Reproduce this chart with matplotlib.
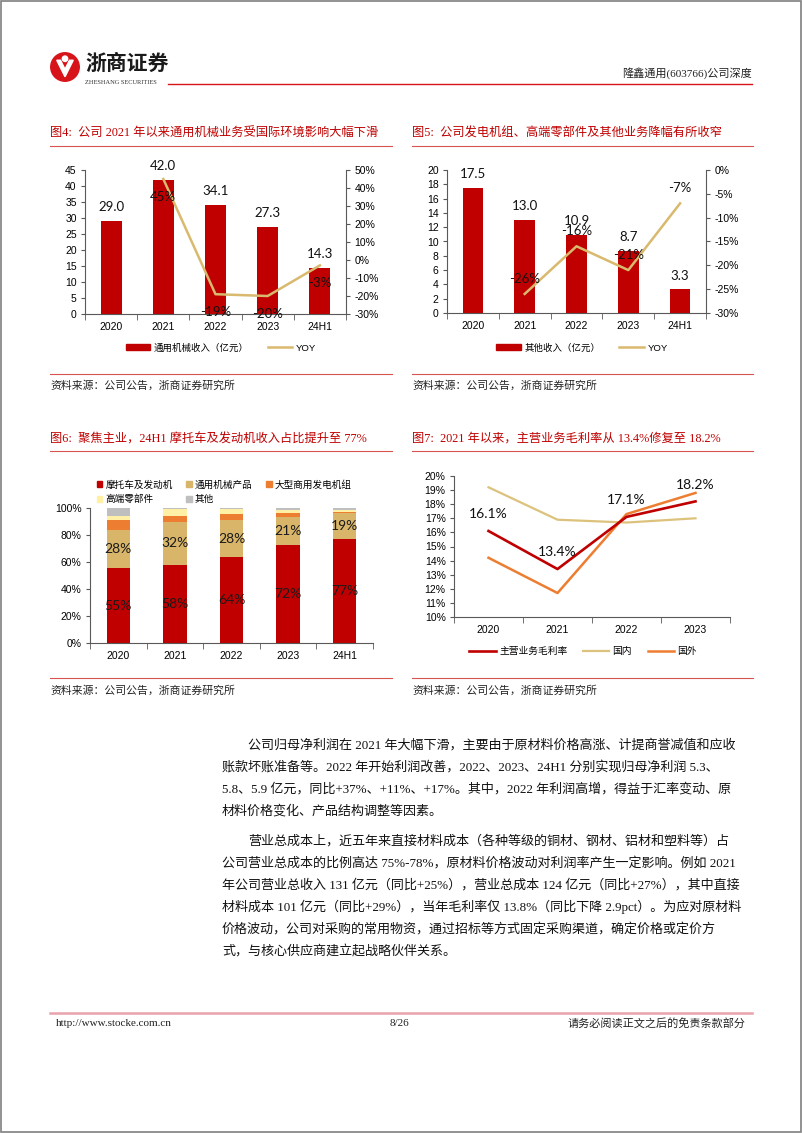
import numpy as np
import matplotlib
matplotlib.use("Agg")
import matplotlib.pyplot as plt
from matplotlib.lines import Line2D
from matplotlib.patches import Patch, Circle, Polygon, Rectangle

# ---- data ----
years5 = ["2020", "2021", "2022", "2023", "24H1"]
machinery_rev = [29.0, 42.0, 34.1, 27.3, 14.3]
machinery_yoy = [np.nan, 45, -19, -20, -3]
other_rev = [17.5, 13.0, 10.9, 8.7, 3.3]
other_yoy = [np.nan, -26, -16, -21, -7]

share_names = ["摩托车及发动机", "通用机械产品", "大型商用发电机组", "高端零部件", "其他"]
share_moto = [55.4, 57.7, 63.6, 72.3, 76.8]
share_general = [28.0, 32.2, 27.6, 21.0, 19.3]
share_genset = [7.8, 4.5, 4.3, 3.0, 1.3]
share_parts = [3.0, 4.6, 3.5, 2.2, 1.2]
share_other = [5.8, 1.0, 1.0, 1.5, 1.4]

years4 = ["2020", "2021", "2022", "2023"]
gm_main = [16.1, 13.4, 17.1, 18.2]
gm_dom = [19.2, 16.9, 16.7, 17.0]
gm_for = [14.2, 11.7, 17.3, 18.8]

RED = "#C00000"
TAN = "#D9B96E"
STK_TAN = "#D8B569"
ORANGE = "#ED7D31"
PALE = "#FFF0A6"
GRAY = "#BFBFBF"
DOM = "#DCC27C"
TITLE_RED = "#C00000"
LINE_RED = "#D9534F"
AXC = "#595959"

SERIF = ["Liberation Serif", "Noto Sans CJK SC"]
SANS = ["Liberation Sans", "Noto Sans CJK SC"]
LBL = ["Lato", "Noto Sans CJK SC"]

W, H = 802, 1133
fig = plt.figure(figsize=(W / 100, H / 100), dpi=100)


def px_axes(x0, y0, x1, y1):
    return fig.add_axes([x0 / W, 1 - y1 / H, (x1 - x0) / W, (y1 - y0) / H])


def ftext(x, y, s, **kw):
    kw.setdefault("va", "center")
    return fig.text(x / W, 1 - y / H, s, **kw)


def hline(x0, x1, y, color=LINE_RED, lw=0.8):
    fig.add_artist(Line2D([x0 / W, x1 / W], [1 - y / H] * 2, color=color, lw=lw))


def style_axes(ax, n):
    ax.set_xlim(-0.5, n - 0.5)
    ax.set_xticks(range(n))
    ax.set_xticks(np.arange(-0.5, n), minor=True)
    ax.tick_params(axis="x", which="major", length=0, pad=6)
    ax.tick_params(axis="x", which="minor", length=4, color=AXC)
    ax.tick_params(axis="y", length=3, color=AXC, pad=3)
    for s in ["top", "right"]:
        ax.spines[s].set_visible(False)
    for s in ["left", "bottom"]:
        ax.spines[s].set_color(AXC)
        ax.spines[s].set_linewidth(0.8)
    for lab in ax.get_xticklabels() + ax.get_yticklabels():
        lab.set_fontfamily(SANS)
        lab.set_fontsize(7.5)


# page border
fig.add_artist(Rectangle((0.001, 0.001), 0.998, 0.998, transform=fig.transFigure,
                         fill=False, edgecolor="#7f7f7f", lw=1.2))

# ---- header ----
lax = px_axes(50, 52, 80, 82)
lax.set_xlim(-1, 1)
lax.set_ylim(-1, 1)
lax.set_aspect("equal")
lax.axis("off")
lax.add_patch(Circle((0, 0), 0.95, color="#D7141A"))
lax.add_patch(Polygon([(-0.55, 0.45), (0, -0.65), (0.55, 0.45), (0.3, 0.45), (0, -0.15), (-0.3, 0.45)],
                      closed=True, color="white"))
lax.add_patch(Circle((0, 0.55), 0.18, color="white"))
ftext(85, 64, "浙商证券", fontsize=15, fontweight="bold", family=SANS, color="#1a1a1a")
ftext(85, 83, "ZHESHANG SECURITIES", fontsize=4.6, family=SERIF, color="#333333")
hline(168, 752, 84, color="#D7141A", lw=1.0)
ftext(752, 73, "隆鑫通用(603766)公司深度", fontsize=8, family=SERIF, ha="right", color="#222222")

# ---- titles / sources ----
ftext(50, 134, "图4:  公司 2021 年以来通用机械业务受国际环境影响大幅下滑", fontsize=8.8, family=SERIF, color=TITLE_RED)
ftext(412, 134, "图5:  公司发电机组、高端零部件及其他业务降幅有所收窄", fontsize=8.8, family=SERIF, color=TITLE_RED)
hline(50, 392, 146)
hline(412, 753, 146)
hline(50, 392, 374)
hline(412, 753, 374)
ftext(50, 386, "资料来源：公司公告，浙商证券研究所", fontsize=7.8, family=SERIF, color="#222222")
ftext(412, 386, "资料来源：公司公告，浙商证券研究所", fontsize=7.8, family=SERIF, color="#222222")

ftext(50, 439, "图6:  聚焦主业，24H1 摩托车及发动机收入占比提升至 77%", fontsize=8.8, family=SERIF, color=TITLE_RED)
ftext(412, 439, "图7:  2021 年以来，主营业务毛利率从 13.4%修复至 18.2%", fontsize=8.8, family=SERIF, color=TITLE_RED)
hline(50, 392, 451)
hline(412, 753, 451)
hline(50, 392, 678)
hline(412, 753, 678)
ftext(50, 691, "资料来源：公司公告，浙商证券研究所", fontsize=7.8, family=SERIF, color="#222222")
ftext(412, 691, "资料来源：公司公告，浙商证券研究所", fontsize=7.8, family=SERIF, color="#222222")


# ---- bar + yoy charts ----
def bar_yoy(box, rev, yoy, ylim, ystep, rlim, rstep):
    ax = px_axes(*box)
    x = np.arange(len(years5))
    ax.bar(x, rev, width=0.4, color=RED, zorder=2)
    ax.set_ylim(*ylim)
    ax.set_yticks(np.arange(ylim[0], ylim[1] + 0.1, ystep))
    ax.set_xticklabels(years5)
    style_axes(ax, len(years5))
    for i, v in enumerate(rev):
        ax.annotate(f"{v:.1f}", (i, v), xytext=(0, 10), textcoords="offset points",
                    ha="center", va="center", fontsize=9.5, family=LBL, color="#111111")
    ax2 = ax.twinx()
    ax2.plot(x, yoy, color=TAN, lw=1.8, zorder=3)
    ax2.set_ylim(*rlim)
    rt = np.arange(rlim[0], rlim[1] + 0.1, rstep)
    ax2.set_yticks(rt)
    ax2.set_yticklabels([f"{t:.0f}%" for t in rt])
    for s in ["top", "left", "bottom"]:
        ax2.spines[s].set_visible(False)
    ax2.spines["right"].set_color(AXC)
    ax2.spines["right"].set_linewidth(0.8)
    ax2.tick_params(axis="y", length=3, color=AXC, pad=3)
    for lab in ax2.get_yticklabels():
        lab.set_fontfamily(SANS)
        lab.set_fontsize(7.5)
    return ax, ax2


ax4, ax4r = bar_yoy((85, 170, 346, 314), machinery_rev, machinery_yoy, (0, 45), 5, (-30, 50), 10)
for i, v in enumerate(machinery_yoy):
    if not np.isnan(v):
        ax4r.annotate(f"{v:.0f}%", (i, v), xytext=(0, -13), textcoords="offset points",
                      ha="center", va="center", fontsize=9.5, family=LBL, color="#111111")

ax5, ax5r = bar_yoy((447, 170, 706, 313), other_rev, other_yoy, (0, 20), 2, (-30, 0), 5)
for i, v in enumerate(other_yoy):
    if not np.isnan(v):
        ax5r.annotate(f"{v:.0f}%", (i, v), xytext=(0, 11), textcoords="offset points",
                      ha="center", va="center", fontsize=9.5, family=LBL, color="#111111")

leg_kw = dict(loc="center", ncol=2, frameon=False, handlelength=2.6, handleheight=0.6,
              columnspacing=2.0, handletextpad=0.4, prop={"family": SANS, "size": 6.8})
fig.legend([Patch(color=RED), Line2D([], [], color=TAN, lw=1.8)], ["通用机械收入（亿元）", "YOY"],
           bbox_to_anchor=(221 / W, 1 - 348 / H), **leg_kw)
fig.legend([Patch(color=RED), Line2D([], [], color=TAN, lw=1.8)], ["其他收入（亿元）", "YOY"],
           bbox_to_anchor=(582 / W, 1 - 348 / H), **leg_kw)

# ---- stacked share chart ----
ax6 = px_axes(90, 508, 373, 643)
x = np.arange(len(years5))
series = [share_moto, share_general, share_genset, share_parts, share_other]
colors = [RED, STK_TAN, ORANGE, PALE, GRAY]
bottom = np.zeros(len(years5))
handles = []
for k, (vals, c) in enumerate(zip(series, colors)):
    vals = np.array(vals)
    ax6.bar(x, vals, bottom=bottom, width=0.41, color=c, zorder=2)
    handles.append(Patch(color=c))
    if k < 2:
        for i, v in enumerate(vals):
            ax6.text(i, bottom[i] + v / 2, f"{v:.0f}%", ha="center", va="center",
                     fontsize=10, family=LBL, color="#1a1a1a", zorder=3)
    bottom += vals
ax6.set_ylim(0, 100)
ax6.set_yticks(np.arange(0, 101, 20))
ax6.set_yticklabels([f"{t}%" for t in range(0, 101, 20)])
ax6.set_xticklabels(years5)
style_axes(ax6, len(years5))
order = [0, 3, 1, 4, 2]
fig.legend([handles[i] for i in order], [share_names[i] for i in order],
           loc="upper left", bbox_to_anchor=(88 / W, 1 - 471 / H), ncol=3, frameon=False,
           handlelength=0.6, handleheight=0.6, handletextpad=0.3, columnspacing=1.4,
           labelspacing=0.45, prop={"family": SANS, "size": 6.9})

# ---- margin line chart ----
ax7 = px_axes(454, 476, 730, 617)
x4 = np.arange(len(years4))
ax7.plot(x4, gm_dom, color=DOM, lw=1.6, zorder=2)
ax7.plot(x4, gm_for, color=ORANGE, lw=1.8, zorder=2)
ax7.plot(x4, gm_main, color=RED, lw=1.9, zorder=3)
for i, v in enumerate(gm_main):
    ax7.annotate(f"{v:.1f}%", (i, v), xytext=(0, 12), textcoords="offset points",
                 ha="center", va="center", fontsize=10, family=LBL, color="#111111")
ax7.set_ylim(10, 20)
ax7.set_yticks(np.arange(10, 21, 1))
ax7.set_yticklabels([f"{t}%" for t in range(10, 21)])
ax7.set_xticklabels(years4)
style_axes(ax7, len(years4))
fig.legend([Line2D([], [], color=RED, lw=1.9), Line2D([], [], color=DOM, lw=1.6),
            Line2D([], [], color=ORANGE, lw=1.8)], ["主营业务毛利率", "国内", "国外"],
           loc="center", bbox_to_anchor=(583 / W, 1 - 651 / H), ncol=3, frameon=False,
           handlelength=2.7, handletextpad=0.35, columnspacing=1.6, prop={"family": SANS, "size": 7})

# ---- body text ----
body = [
    (248, 745, "公司归母净利润在 2021 年大幅下滑，主要由于原材料价格高涨、计提商誉减值和应收"),
    (222, 767, "账款坏账准备等。2022 年开始利润改善，2022、2023、24H1 分别实现归母净利润 5.3、"),
    (222, 789, "5.8、5.9 亿元，同比+37%、+11%、+17%。其中，2022 年利润高增，得益于汇率变动、原"),
    (222, 811, "材料价格变化、产品结构调整等因素。"),
    (248, 841, "营业总成本上，近五年来直接材料成本（各种等级的铜材、钢材、铝材和塑料等）占"),
    (222, 863, "公司营业总成本的比例高达 75%-78%，原材料价格波动对利润率产生一定影响。例如 2021"),
    (222, 885, "年公司营业总收入 131 亿元（同比+25%），营业总成本 124 亿元（同比+27%），其中直接"),
    (222, 907, "材料成本 101 亿元（同比+29%），当年毛利率仅 13.8%（同比下降 2.9pct）。为应对原材料"),
    (222, 929, "价格波动，公司对采购的常用物资，通过招标等方式固定采购渠道，确定价格或定价方"),
    (222, 951, "式，与核心供应商建立起战略伙伴关系。"),
]
for bx, by, s in body:
    ftext(bx, by, s, fontsize=9.4, family=SERIF, color="#111111")

# ---- footer ----
hline(50, 752, 1013, color="#E8A3AC", lw=1.8)
ftext(56, 1023, "http://www.stocke.com.cn", fontsize=8, family=SERIF, color="#222222")
ftext(400, 1023, "8/26", fontsize=8, family=SERIF, ha="center", color="#222222")
ftext(746, 1023, "请务必阅读正文之后的免责条款部分", fontsize=8, family=SERIF, ha="right", color="#222222")

fig.savefig("out.png", dpi=100)
